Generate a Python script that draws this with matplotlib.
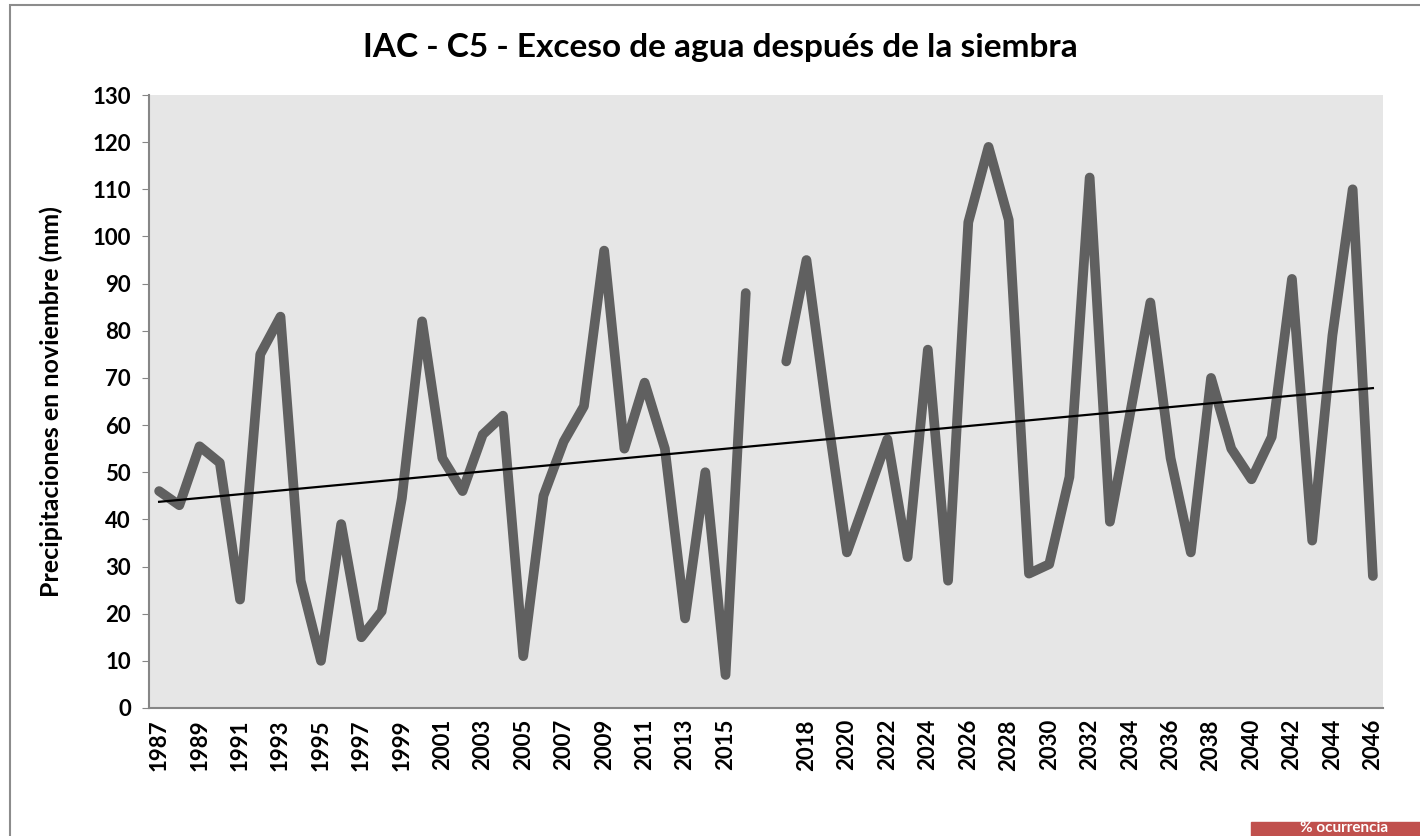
import matplotlib.pyplot as plt
import matplotlib.patches as mpatches
import numpy as np

years = [str(y) for y in range(1987, 2017)] + [''] + [str(y) for y in range(2017, 2047)]
precip = [46, 43, 55.5, 52, 23, 75, 83, 27, 10, 39,
          15, 20.5, 44.5, 82, 53, 46, 58, 62, 11, 45,
          56.5, 64, 97, 55, 69, 55, 19, 50, 7, 88,
          np.nan,
          73.5, 95, 63, 33, 45, 57, 32, 76, 27, 103,
          119, 103.5, 28.5, 30.5, 49, 112.5, 39.5, 62.5, 86, 53,
          33, 70, 55, 48.5, 57.5, 91, 35.5, 79, 110, 28]

title = 'IAC - C5 - Exceso de agua después de la siembra'
ylabel = 'Precipitaciones en noviembre (mm)'


def main():
    plt.rcParams['font.family'] = ['Lato', 'DejaVu Sans']
    fig = plt.figure(figsize=(14.2, 8.36), dpi=100)
    ax = fig.add_axes([149 / 1420, 1 - 708 / 836, (1383 - 149) / 1420, (708 - 95) / 836])

    x = np.arange(len(years))
    y = np.array(precip, dtype=float)
    ax.plot(x, y, color='#606060', lw=7, solid_capstyle='round', solid_joinstyle='round')

    # linear trend over the available years
    ok = ~np.isnan(y)
    slope, icpt = np.polyfit(x[ok], y[ok], 1)
    ax.plot(x, slope * x + icpt, color='black', lw=1.6)

    ax.set_facecolor('#E6E6E6')
    ax.set_xlim(-0.5, len(years) - 0.5)
    ax.set_ylim(0, 130)
    ax.set_yticks(range(0, 131, 10))
    ax.set_xticks(x[::2])
    ax.set_xticklabels(years[::2], rotation=90, fontweight='bold', fontsize=16)
    for lab in ax.get_yticklabels():
        lab.set_fontweight('bold')
        lab.set_fontsize(16)
    ax.tick_params(axis='y', length=5, color='#868686', pad=8)
    ax.tick_params(axis='x', length=0, pad=8)
    for side in ['top', 'right']:
        ax.spines[side].set_visible(False)
    for side in ['left', 'bottom']:
        ax.spines[side].set_color('#868686')
        ax.spines[side].set_linewidth(1.5)

    ax.set_ylabel(ylabel, fontweight='bold', fontsize=18)
    ax.yaxis.set_label_coords(-0.07, 0.5)
    fig.text(720 / 1420, 1 - 48 / 836, title, ha='center', va='center',
             fontsize=24, fontweight='bold')

    border = mpatches.Rectangle((10 / 1420, -0.1), 1.2, 1 - 5 / 836 + 0.1,
                                transform=fig.transFigure, fill=False,
                                edgecolor='#8C8C8C', lw=1.5)
    fig.patches.append(border)
    red = mpatches.Rectangle((1251 / 1420, 0), 0.2, 14 / 836,
                             transform=fig.transFigure, color='#C0504D')
    fig.patches.append(red)
    fig.text(1300 / 1420, 1 / 836, '% ocurrencia', color='white', fontsize=11,
             fontweight='bold', ha='left', va='bottom')

    fig.savefig('out.png', dpi=100)


if __name__ == '__main__':
    main()
